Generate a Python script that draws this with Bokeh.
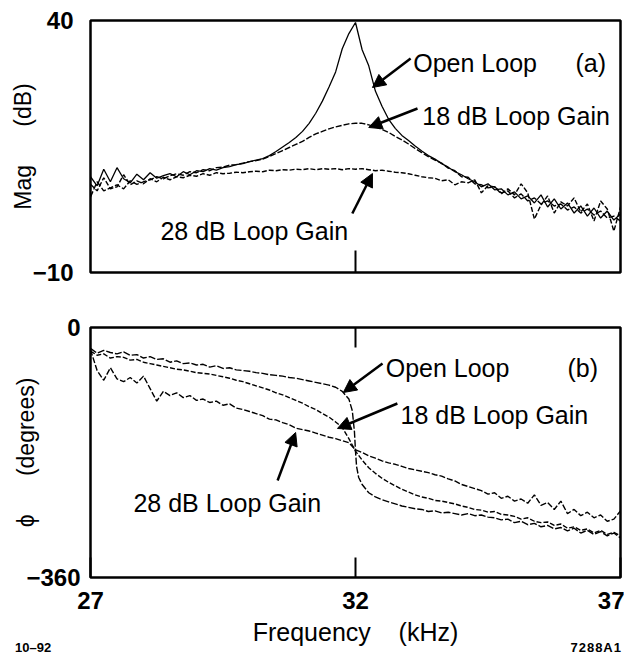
from bokeh.plotting import figure
from bokeh.layouts import column
from bokeh.models import Range1d, FixedTicker, LinearAxis, Label, Arrow, NormalHead, Div
from bokeh.embed import file_html
from bokeh.resources import INLINE

# ---------------- data ----------------
FREQ = [
    27.0, 27.125, 27.25, 27.375, 27.5, 27.625, 27.75, 27.875,
    28.0, 28.125, 28.25, 28.375, 28.5, 28.625, 28.75, 28.875,
    29.0, 29.125, 29.25, 29.375, 29.5, 29.625, 29.75, 29.875,
    30.0, 30.125, 30.25, 30.375, 30.5, 30.625, 30.75, 30.875,
    31.0, 31.125, 31.25, 31.375, 31.5, 31.625, 31.75, 31.875,
    32.0, 32.125, 32.25, 32.375, 32.5, 32.625, 32.75, 32.875,
    33.0, 33.125, 33.25, 33.375, 33.5, 33.625, 33.75, 33.875,
    34.0, 34.125, 34.25, 34.375, 34.5, 34.625, 34.75, 34.875,
    35.0, 35.125, 35.25, 35.375, 35.5, 35.625, 35.75, 35.875,
    36.0, 36.125, 36.25, 36.375, 36.5, 36.625, 36.75, 36.875,
    37.0,
]

# magnitude (dB)
OPEN_LOOP_MAG = [
    9.0, 7.2, 10.5, 8.0, 10.8, 8.6, 7.8, 9.5,
    8.4, 9.8, 8.7, 9.2, 9.6, 9.0, 10.0, 9.4,
    10.2, 10.0, 10.6, 10.3, 10.8, 11.0, 11.4, 11.6,
    12.0, 12.3, 12.6, 13.2, 14.0, 14.9, 15.8, 16.8,
    18.0, 19.6, 21.6, 24.0, 26.8, 29.8, 34.4, 37.4,
    39.6, 34.2, 31.0, 26.0, 23.0, 20.4, 18.6, 17.2,
    16.2, 15.1, 14.1, 13.2, 12.5, 11.6, 10.9, 10.0,
    9.4, 8.6, 8.0, 7.0, 7.6, 6.4, 6.6, 5.4,
    6.0, 4.6, 5.2, 3.8, 5.4, 3.0, 4.6, 2.6,
    3.8, 1.8, 3.2, 1.2, 2.8, 0.8, 2.2, 0.4,
    1.6,
]
GAIN18_MAG = [
    5.0, 8.0, 6.2, 6.8, 7.4, 6.6, 8.2, 7.5,
    8.0, 8.4, 9.0, 8.6, 9.2, 9.6, 9.3, 10.0,
    9.8, 10.4, 10.2, 10.8, 10.9, 11.3, 11.4, 11.7,
    12.0, 12.2, 12.5, 13.0, 13.6, 14.2, 14.8, 15.4,
    16.0, 16.8, 17.5, 18.0, 18.5, 18.9, 19.2, 19.5,
    19.6, 19.6, 19.3, 18.9, 18.4, 17.8, 17.0, 16.3,
    15.5, 14.6, 13.8, 13.0, 12.3, 11.7, 10.7, 10.2,
    9.0, 8.9, 7.6, 7.4, 6.8, 7.0, 5.8, 6.2,
    4.8, 5.6, 4.2, 4.8, 3.6, 4.2, 3.2, 3.6,
    2.4, 3.0, 1.8, 2.6, 1.4, 2.2, 0.8, 1.2,
    0.2,
]
GAIN28_MAG = [
    7.5, 6.2, 8.8, 6.6, 7.0, 9.4, 7.4, 8.2,
    7.6, 8.6, 8.0, 8.9, 8.4, 9.0, 8.8, 9.3,
    9.1, 9.6, 9.3, 9.8, 9.6, 9.7, 9.9, 9.8,
    10.0, 10.1, 10.0, 10.3, 10.2, 10.4, 10.3, 10.5,
    10.4, 10.6, 10.4, 10.6, 10.5, 10.6, 10.4, 10.6,
    10.5, 10.6, 10.4, 10.2, 10.3, 10.1, 9.9, 9.8,
    9.6, 9.3, 9.0, 8.8, 8.7, 8.2, 8.4, 7.4,
    8.0, 7.8, 8.4, 5.8, 7.2, 7.0, 5.6, 6.6,
    5.4, 7.6, 5.8, 0.6, 3.4, 5.2, 1.8, 4.0,
    3.2, 4.8, 2.0, 3.6, 0.2, 4.2, 2.6, -1.8,
    3.0,
]

# phase (degrees)
OPEN_LOOP_PH_FREQ = [
    27.0, 27.125, 27.25, 27.375, 27.5, 27.625, 27.75, 27.875,
    28.0, 28.125, 28.25, 28.375, 28.5, 28.625, 28.75, 28.875,
    29.0, 29.125, 29.25, 29.375, 29.5, 29.625, 29.75, 29.875,
    30.0, 30.125, 30.25, 30.375, 30.5, 30.625, 30.75, 30.875,
    31.0, 31.125, 31.25, 31.375, 31.5, 31.625, 31.75, 31.875,
    31.94, 31.98, 32.0, 32.02, 32.06,
    32.125, 32.25, 32.375, 32.5, 32.625, 32.75, 32.875,
    33.0, 33.125, 33.25, 33.375, 33.5, 33.625, 33.75, 33.875,
    34.0, 34.125, 34.25, 34.375, 34.5, 34.625, 34.75, 34.875,
    35.0, 35.125, 35.25, 35.375, 35.5, 35.625, 35.75, 35.875,
    36.0, 36.125, 36.25, 36.375, 36.5, 36.625, 36.75, 36.875,
    37.0,
]
OPEN_LOOP_PH = [
    -30, -37, -33, -36, -38, -35, -40, -39,
    -44, -42, -46, -45, -50, -48, -52, -51,
    -54, -53, -57, -55, -59, -58, -61, -62,
    -63, -65, -66, -68, -69, -70, -72, -73,
    -75, -77, -79, -81, -83, -86, -92, -103,
    -120, -150, -178, -200, -216,
    -226, -238, -244, -248, -251, -254, -257,
    -259, -261, -262, -265, -264, -267, -266, -268,
    -270, -268, -271, -270, -273, -274, -277, -276,
    -281, -279, -284, -282, -287, -285, -290, -288,
    -293, -289, -296, -292, -298, -294, -300, -296,
    -303,
]
GAIN18_PH = [
    -34, -40, -38, -44, -42, -43, -47, -46,
    -50, -52, -54, -56, -58, -60, -61, -63,
    -65, -66, -67, -69, -71, -73, -76, -78,
    -81, -84, -87, -90, -94, -97, -101, -105,
    -109, -114, -118, -124, -129, -136, -144, -160,
    -178, -191, -202, -210, -217, -223, -228, -233,
    -237, -241, -244, -246, -249, -250, -252, -254,
    -257, -259, -262, -263, -266, -265, -269, -270,
    -272, -276, -274, -279, -281, -280, -285, -283,
    -289, -287, -292, -290, -296, -292, -298, -295,
    -300,
]
GAIN28_PH = [
    -32, -62, -76, -58, -74, -78, -72, -80,
    -70, -88, -106, -92, -98, -94, -101, -98,
    -105, -103, -108, -106, -112, -110, -116, -118,
    -121, -124, -127, -132, -133, -137, -140, -145,
    -147, -149, -152, -155, -158, -160, -163, -166,
    -176, -180, -185, -188, -192, -195, -197, -200,
    -203, -205, -207, -209, -212, -214, -218, -221,
    -226, -229, -232, -235, -240, -238, -246, -243,
    -250, -247, -253, -241, -256, -252, -262, -250,
    -268, -262, -271, -266, -274, -270, -279, -276,
    -264,
]

X_TICKS = [27, 32, 37]
MAG_TICKS = [-10, 40]
PH_TICKS = [-360, 0]

FONT = "Liberation Sans"
NB = "\u00a0"


def style_common(p):
    p.grid.visible = False
    p.outline_line_color = "black"
    p.outline_line_width = 2.5
    p.background_fill_color = "white"
    p.border_fill_color = "white"


def style_yaxis(ax, ticks, overrides, standoff, label, label_standoff):
    ax.ticker = FixedTicker(ticks=ticks, minor_ticks=[])
    ax.major_label_overrides = overrides
    ax.major_tick_in = 0
    ax.major_tick_out = 0
    ax.minor_tick_in = 0
    ax.minor_tick_out = 0
    ax.axis_line_color = None
    ax.major_label_standoff = standoff
    ax.major_label_text_font = FONT
    ax.major_label_text_font_size = "24px"
    ax.major_label_text_font_style = "bold"
    ax.major_label_text_color = "black"
    ax.axis_label = label
    ax.axis_label_standoff = label_standoff
    ax.axis_label_text_font = FONT
    ax.axis_label_text_font_size = "23px"
    ax.axis_label_text_font_style = "normal"
    ax.axis_label_text_color = "black"


def add_text(p, x, y, text, size="25px", align="left"):
    p.add_layout(Label(x=x, y=y, text=text, text_font=FONT, text_font_size=size,
                       text_align=align, text_baseline="alphabetic",
                       text_color="black"))


def add_arrow(p, x0, y0, x1, y1):
    p.add_layout(Arrow(end=NormalHead(size=13, fill_color="black", line_color="black"),
                       x_start=x0, y_start=y0, x_end=x1, y_end=y1,
                       line_color="black", line_width=2.5))


# ---------------- top panel: magnitude ----------------
p1 = figure(output_backend="svg", toolbar_location=None,
            frame_width=530, frame_height=252,
            min_border_left=90, min_border_right=4, min_border_top=20, min_border_bottom=30,
            x_range=Range1d(27, 37), y_range=Range1d(-10, 40))
style_common(p1)
style_yaxis(p1.yaxis[0], MAG_TICKS, {-10: "\u221210", 40: "40"}, 17,
            "Mag" + NB * 6 + "(dB)", -6)
xa = p1.xaxis[0]
xa.ticker = FixedTicker(ticks=[32], minor_ticks=[])
xa.major_label_overrides = {32: ""}
xa.major_tick_in = 22
xa.major_tick_out = 0
xa.major_tick_line_width = 2
xa.minor_tick_in = 0
xa.minor_tick_out = 0
xa.axis_line_color = None
xa.major_label_text_font_size = "1px"

p1.line(FREQ, OPEN_LOOP_MAG, line_color="black", line_width=1.3)
p1.line(FREQ, GAIN18_MAG, line_color="black", line_width=1.4, line_dash="6 2")
p1.line(FREQ, GAIN28_MAG, line_color="black", line_width=1.4, line_dash="5 2")

add_text(p1, 33.09, 31.47, "Open Loop")
add_text(p1, 36.15, 31.5, "(a)")
add_text(p1, 33.26, 21.15, "18 dB Loop Gain")
add_text(p1, 28.32, -1.67, "28 dB Loop Gain")
add_arrow(p1, 33.04, 32.46, 32.32, 26.71)
add_arrow(p1, 33.17, 22.54, 32.25, 18.77)
add_arrow(p1, 31.94, 1.71, 32.32, 9.64)

# ---------------- bottom panel: phase ----------------
p2 = figure(output_backend="svg", toolbar_location=None,
            frame_width=530, frame_height=250,
            min_border_left=90, min_border_right=4, min_border_top=25, min_border_bottom=77,
            x_range=Range1d(27, 37), y_range=Range1d(-360, 0))
style_common(p2)
style_yaxis(p2.yaxis[0], PH_TICKS, {-360: "\u2212360", 0: "0"}, 10,
            "\u03d5" + NB * 6 + "(degrees)", -16)
xb = p2.xaxis[0]
xb.ticker = FixedTicker(ticks=X_TICKS, minor_ticks=[])
xb.major_tick_in = 20
xb.major_tick_out = 0
xb.major_tick_line_width = 2
xb.minor_tick_in = 0
xb.minor_tick_out = 0
xb.axis_line_color = None
xb.major_label_standoff = 14
xb.major_label_text_font = FONT
xb.major_label_text_font_size = "24px"
xb.major_label_text_font_style = "bold"
xb.major_label_text_color = "black"
xb.axis_label = "Frequency" + NB * 4 + "(kHz)"
xb.axis_label_standoff = 6
xb.axis_label_text_font = FONT
xb.axis_label_text_font_size = "25px"
xb.axis_label_text_font_style = "normal"
xb.axis_label_text_color = "black"

xt = LinearAxis(ticker=FixedTicker(ticks=[32], minor_ticks=[]),
                major_label_overrides={32: ""}, major_tick_in=20, major_tick_out=0,
                major_tick_line_width=2, minor_tick_in=0, minor_tick_out=0,
                axis_line_color=None, major_label_text_font_size="1px")
p2.add_layout(xt, "above")

p2.line(OPEN_LOOP_PH_FREQ, OPEN_LOOP_PH, line_color="black", line_width=1.4, line_dash="7 2")
p2.line(FREQ, GAIN18_PH, line_color="black", line_width=1.4, line_dash="5 2")
p2.line(FREQ, GAIN28_PH, line_color="black", line_width=1.4, line_dash="6 2")

add_text(p2, 32.57, -59, "Open Loop")
add_text(p2, 36.0, -59, "(b)")
add_text(p2, 32.85, -126.7, "18 dB Loop Gain")
add_text(p2, 27.81, -253.4, "28 dB Loop Gain")
add_arrow(p2, 32.51, -51.8, 31.77, -93.6)
add_arrow(p2, 32.79, -109.4, 31.66, -145.4)
add_arrow(p2, 30.53, -220.3, 30.87, -151.2)

# small figure ids in the page's bottom corners (overlaid on the plot's bottom border)
ids = Div(
    text=('<div style="position:relative;width:626px;height:12px;'
          'font-family:\'Liberation Sans\';font-weight:bold;font-size:13px;line-height:12px;">'
          '<span style="position:absolute;left:15px;top:0px;">10\u201392</span>'
          '<span style="position:absolute;right:4px;top:0px;letter-spacing:1px;">7288A1</span>'
          '</div>'),
    width=626, height=12, margin=(-12, 0, 0, 0))

layout = column(p1, p2, ids)
open("out.html", "w").write(file_html(layout, INLINE))
